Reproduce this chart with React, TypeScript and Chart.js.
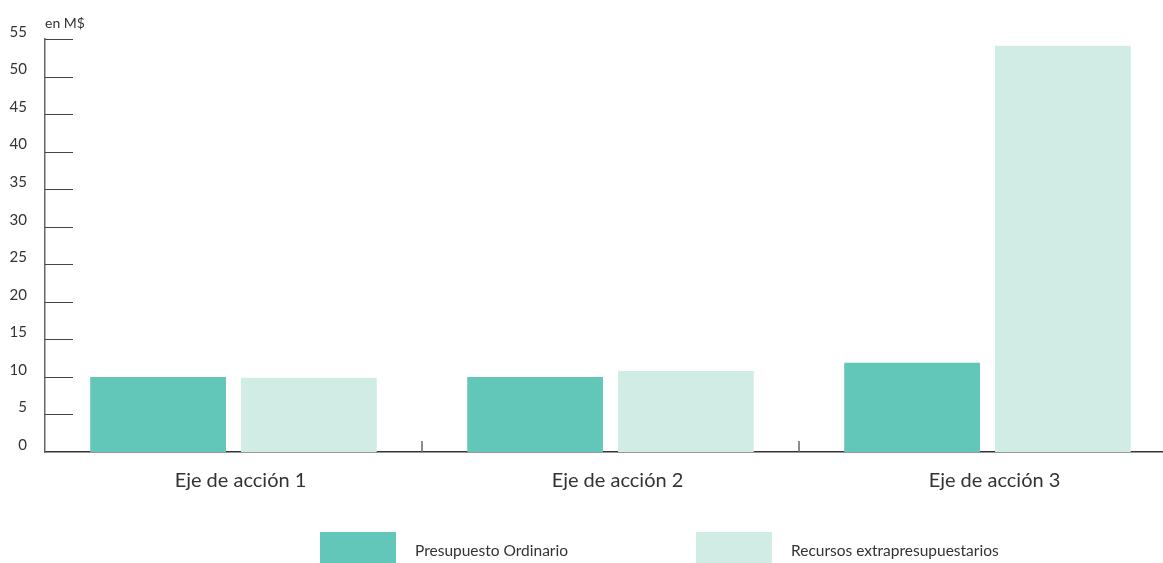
import React, { useEffect, useRef } from "react";
import { Chart, registerables } from "chart.js";

Chart.register(...registerables);

const categories = ["Eje de acción 1", "Eje de acción 2", "Eje de acción 3"];
const seriesNames = ["Presupuesto Ordinario", "Recursos extrapresupuestarios"];
const presupuestoOrdinario = [10, 10, 11.9];
const recursosExtrapresupuestarios = [9.9, 10.8, 54.1];
const yMax = 55;
const yStep = 5;
const yUnitLabel = "en M$";

const COLORS = ["#62c6b9", "#d1ebe5"];
const FONT = "Lato, 'Open Sans', sans-serif";

const decorPlugin = {
  id: "decor",
  afterDraw(chart: any) {
    const ctx = chart.ctx;
    const area = chart.chartArea;
    const y = chart.scales.y;
    const x = chart.scales.x;
    ctx.save();
    // short inward y ticks
    ctx.strokeStyle = "#444";
    ctx.lineWidth = 1;
    y.ticks.forEach((t: any) => {
      if (t.value === 0) return;
      const py = Math.round(y.getPixelForValue(t.value)) + 0.5;
      ctx.beginPath();
      ctx.moveTo(area.left, py);
      ctx.lineTo(area.left + 28, py);
      ctx.stroke();
    });
    // category separator ticks
    ctx.strokeStyle = "#666";
    ctx.lineWidth = 1.5;
    for (let i = 1; i < categories.length; i++) {
      const px = Math.round((x.getPixelForValue(i - 1) + x.getPixelForValue(i)) / 2);
      ctx.beginPath();
      ctx.moveTo(px, area.bottom);
      ctx.lineTo(px, area.bottom - 11);
      ctx.stroke();
    }
    // unit label
    ctx.fillStyle = "#333";
    ctx.font = `14px ${FONT}`;
    ctx.textAlign = "left";
    ctx.textBaseline = "alphabetic";
    ctx.fillText(yUnitLabel, area.left, area.top - 11);
    // legend
    chart.data.datasets.forEach((ds: any, i: number) => {
      const bx = 320 + i * 376;
      ctx.fillStyle = ds.backgroundColor;
      ctx.fillRect(bx, 532, 76, 31);
      ctx.fillStyle = "#333";
      ctx.font = `15.5px ${FONT}`;
      ctx.textBaseline = "middle";
      ctx.fillText(ds.label, bx + 95, 551);
    });
    ctx.restore();
  },
};

export default function App() {
  const ref = useRef<HTMLCanvasElement | null>(null);
  useEffect(() => {
    if (!ref.current) return;
    const chart = new Chart(ref.current, {
      type: "bar",
      data: {
        labels: categories,
        datasets: [
          { label: seriesNames[0], data: presupuestoOrdinario, backgroundColor: COLORS[0] },
          { label: seriesNames[1], data: recursosExtrapresupuestarios, backgroundColor: COLORS[1] },
        ],
      },
      options: {
        animation: false,
        responsive: false,
        devicePixelRatio: 1,
        layout: { padding: { top: 39, bottom: 53, left: 0, right: 0 } },
        datasets: { bar: { categoryPercentage: 0.8, barPercentage: 0.9 } },
        plugins: { legend: { display: false }, tooltip: { enabled: false } },
        scales: {
          x: {
            grid: { display: false, drawTicks: false },
            border: { display: true, color: "#333", width: 1.5 },
            ticks: { color: "#333", font: { family: FONT, size: 20 }, padding: 17, labelOffset: 7 },
          },
          y: {
            min: 0,
            max: yMax,
            afterFit: (s: any) => { s.width = 45; },
            grid: { display: false, drawTicks: false },
            border: { display: true, color: "#666", width: 1.5 },
            ticks: {
              stepSize: yStep,
              color: "#333",
              font: { family: FONT, size: 15 },
              padding: 18,
              labelOffset: -7,
            },
          },
        },
      },
      plugins: [decorPlugin],
    });
    return () => chart.destroy();
  }, []);
  return (
    <div style={{ position: "fixed", left: 0, top: 0, width: 1163, height: 563, overflow: "hidden", background: "#fff" }}>
      <canvas ref={ref} width={1176} height={563} style={{ display: "block", width: 1176, height: 563 }} />
    </div>
  );
}
